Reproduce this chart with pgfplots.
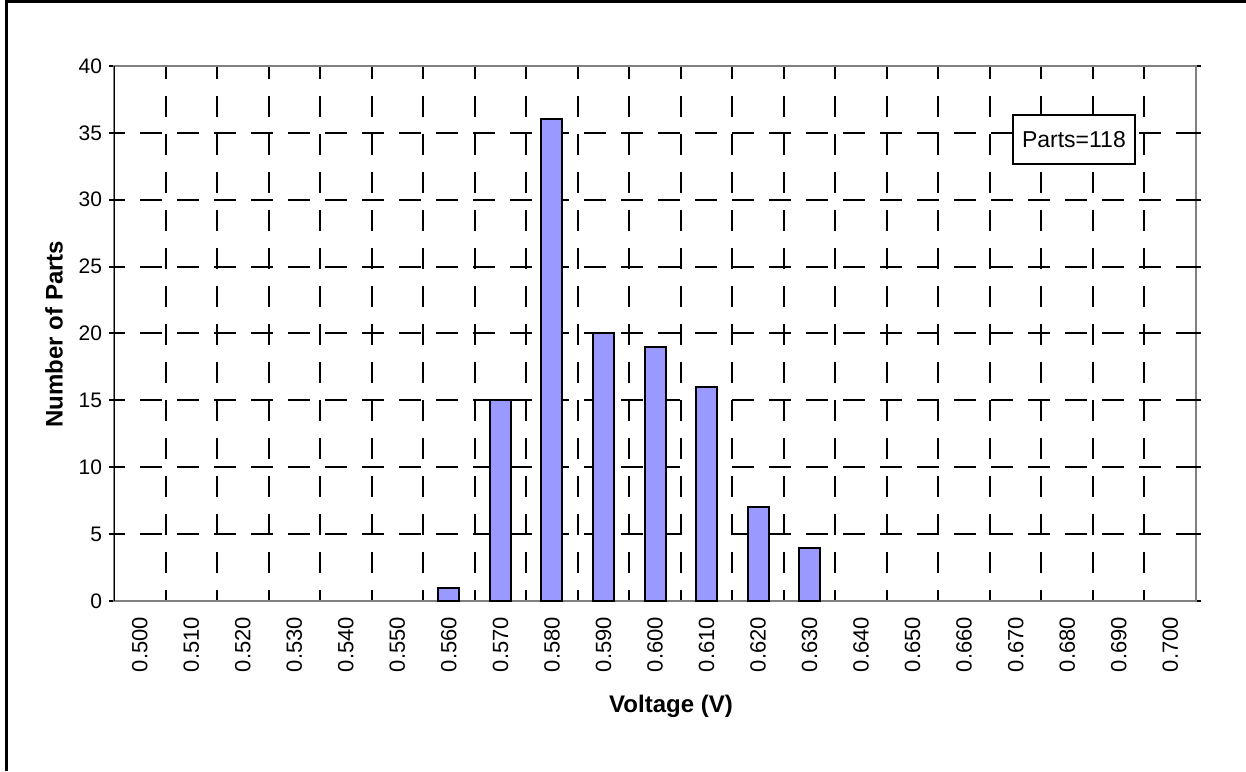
\documentclass[border=0pt]{standalone}
\usepackage{pgfplots}
\pgfplotsset{compat=1.18}
\usepackage{fontspec}
\setmainfont{Liberation Sans}
\definecolor{barblue}{HTML}{9999FF}
\definecolor{axgray}{HTML}{808080}
\begin{document}
\begin{tikzpicture}
\path[use as bounding box] (0,0) rectangle (623pt,385.5pt);
\draw[line width=1.5pt] (3.2pt,0) -- (3.2pt,384.8pt) -- (623pt,384.8pt);
\begin{axis}[
  at={(57pt,85pt)}, anchor=south west,
  scale only axis, width=541pt, height=267.5pt,
  xmin=-0.5, xmax=20.5, ymin=0, ymax=40,
  ytick={0,5,...,40},
  xtick={0,...,20},
  xticklabels={0.500,0.510,0.520,0.530,0.540,0.550,0.560,0.570,0.580,0.590,0.600,0.610,0.620,0.630,0.640,0.650,0.660,0.670,0.680,0.690,0.700},
  minor xtick={0.5,1.5,...,19.5},
  xminorgrids=true,
  minor grid style={black, line width=1pt, dash pattern=on 10.5pt off 8.5pt, dash phase=5pt},
  extra y ticks={5,10,...,35},
  extra y tick labels={},
  extra y tick style={ymajorgrids=true, major grid style={black, line width=1pt, dash pattern=on 11pt off 7.5pt, dash phase=-13pt}},
  axis line style={axgray, line width=1pt},
  tick align=outside,
  major tick length=2.5pt,
  xtick style={draw=none},
  ytick style={black, line width=1pt},
  /pgf/number format/assume math mode=true,
  yticklabel style={font=\fontsize{10.5}{12}\selectfont},
  xticklabel style={font=\fontsize{11}{13}\selectfont, rotate=90, anchor=east},
  xticklabel shift=2pt,
]
\addplot[ybar, bar width=10.5pt, fill=barblue, draw=black, line width=1pt]
  coordinates {(6,1) (7,15) (8,36) (9,20) (10,19) (11,16) (12,7) (13,4)};
\draw[black, line width=1pt] (rel axis cs:0,0) -- (rel axis cs:0,1);
\node[draw=black, fill=white, line width=1pt, minimum width=61pt, minimum height=24.5pt, inner sep=0pt, font=\fontsize{11.5}{13}\selectfont] at (axis cs:18.13,34.5) {Parts=118};
\end{axis}
\node[rotate=90, font=\bfseries\fontsize{12}{14}\selectfont] at (27pt,218.5pt) {Number of Parts};
\node[font=\bfseries\fontsize{12}{14}\selectfont] at (335.5pt,32.5pt) {Voltage (V)};
\end{tikzpicture}
\end{document}
